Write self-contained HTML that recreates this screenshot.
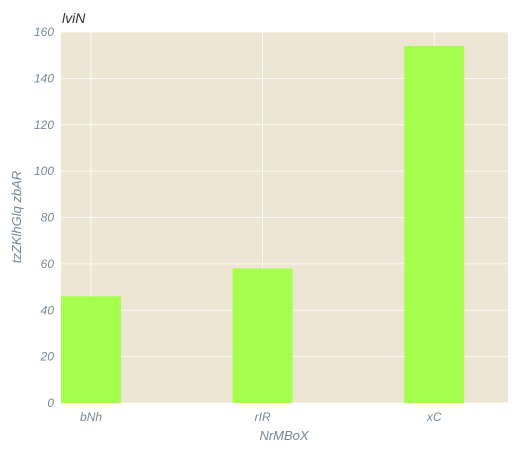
<!DOCTYPE html>
<html><head><meta charset="utf-8"><style>
body{margin:0;background:#fff;}
svg text{font-family:"Liberation Sans",sans-serif;font-style:italic;}
</style></head><body>
<svg id="chart" width="520" height="455" xmlns="http://www.w3.org/2000/svg">
<rect x="61" y="32" width="447" height="371" fill="#ede6d4"/>
<g id="grid"></g><g id="bars"></g><g id="ticks"></g>
<text x="62" y="23" font-size="14" fill="#333">lviN</text>
<text x="284" y="440" font-size="13" fill="#778899" text-anchor="middle">NrMBoX</text>
<text x="0" y="0" font-size="13" fill="#778899" text-anchor="middle" transform="translate(21,217) rotate(-90)">tzZKlhGlq zbAR</text>
</svg>
<script>
const categories=["bNh","rIR","xC"];
const values=[46,58,154];
const yTicks=[0,20,40,60,80,100,120,140,160];
const NS="http://www.w3.org/2000/svg";
const L=61,R=508,T=32,B=403;
const xmin=-0.175,xmax=2.43;
function x(v){return L+(v-xmin)/(xmax-xmin)*(R-L);}
function y(v){return B-v/160*(B-T);}
const bw=x(0.35)-x(0);
function mk(tag,attrs,parent){const e=document.createElementNS(NS,tag);for(const k in attrs)e.setAttribute(k,attrs[k]);document.getElementById(parent).appendChild(e);return e;}
yTicks.forEach(t=>{
 const g=mk('line',{x1:L,x2:R,y1:y(t),y2:y(t),stroke:'#fff','stroke-width':0.8},'grid');
 
 
 const tx=mk('text',{x:L-7,y:y(t)+4,'font-size':12,fill:'#778899','text-anchor':'end'},'ticks');
 tx.textContent=t;
 
 
});
categories.forEach((c,i)=>{
 const g=mk('line',{x1:x(i),x2:x(i),y1:T,y2:B,stroke:'#fff','stroke-width':0.8},'grid');
 
 
 const b=mk('rect',{x:x(i)-bw/2,y:y(values[i]),width:bw,height:B-y(values[i]),fill:'#a6ff4d'},'bars');
 
 
 const tx=mk('text',{x:x(i),y:B+18,'font-size':12,fill:'#778899','text-anchor':'middle'},'ticks');
 tx.textContent=c;
 
 
});
</script>
</body></html>
